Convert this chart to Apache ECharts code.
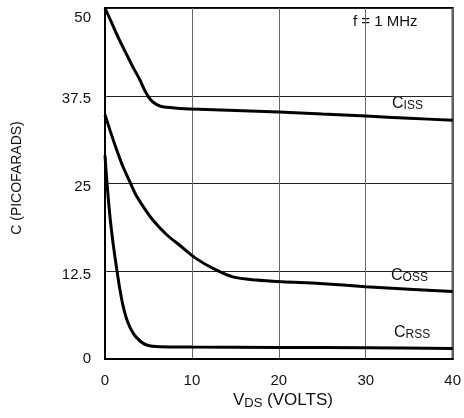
<!DOCTYPE html>
<html>
<head>
<meta charset="utf-8">
<script src="https://cdn.jsdelivr.net/npm/echarts@6/dist/echarts.min.js"></script>
<style>
  html, body { margin: 0; padding: 0; background: #fff; }
  #chart { width: 464px; height: 418px; }
</style>
</head>
<body>
<div id="chart"></div>
<script>
// VDS (volts) sample points
var cissV = [0, 0.8, 1.6, 2.4, 3.25, 4, 4.6, 5.2, 5.75, 6.4, 7.1, 8, 10, 15, 20, 25, 30, 35, 40];
var cissC = [50, 47.8, 45.6, 43.6, 41.5, 39.8, 38.2, 37, 36.4, 36, 35.85, 35.75, 35.6, 35.4, 35.2, 34.9, 34.6, 34.3, 34.0];

var cossV = [0, 0.6, 1.34, 2, 2.8, 3.5, 4.4, 5.5, 7.1, 8.6, 10.5, 12.6, 14.7, 17.4, 20.4, 24.7, 30, 35, 40];
var cossC = [34.8, 32.5, 29.8, 27.6, 25.4, 23.5, 21.7, 19.8, 17.7, 16.2, 14.3, 12.8, 11.7, 11.25, 11.0, 10.75, 10.3, 9.95, 9.6];

var crssV = [0, 0.2, 0.57, 0.95, 1.34, 1.7, 2.1, 2.6, 3.25, 4, 4.8, 6.3, 10, 20, 30, 40];
var crssC = [29, 25.5, 20.3, 16.3, 12.9, 10, 7.45, 5.3, 3.65, 2.6, 2.0, 1.75, 1.7, 1.65, 1.6, 1.5];

var xTicks = [0, 10, 20, 30, 40];
var yTicks = [0, 12.5, 25, 37.5, 50];

function pairs(xs, ys) {
    var out = [];
    for (var i = 0; i < xs.length; i++) out.push([xs[i], ys[i]]);
    return out;
}

var chart = echarts.init(document.getElementById('chart'));

var font = 'Liberation Sans, Arial, sans-serif';

function curve(name, xs, ys) {
    return {
        name: name,
        type: 'line',
        smooth: 0.3,
        symbol: 'none',
        lineStyle: { color: '#000', width: 3 },
        data: pairs(xs, ys)
    };
}

function capLabel(left, top, sub) {
    return {
        type: 'text', left: left, top: top,
        style: {
            text: '{c|C}{s|' + sub + '}',
            rich: {
                c: { fontFamily: font, fontSize: 16, fill: '#111' },
                s: { fontFamily: font, fontSize: 12, fill: '#111', padding: [4, 0, 0, 0] }
            }
        }
    };
}

var option = {
    animation: false,
    backgroundColor: '#fff',
    grid: {
        left: 105, right: 11, top: 8, bottom: 59,
        show: true, borderColor: '#000', borderWidth: 2
    },
    xAxis: {
        type: 'value',
        min: 0, max: 40, interval: 10,
        axisLine: { show: true, lineStyle: { color: '#000', width: 2 } },
        axisTick: { show: false },
        axisLabel: {
            fontFamily: font, fontSize: 15, color: '#111', margin: 14,
            formatter: function (v) { return xTicks.indexOf(v) >= 0 ? String(v) : ''; }
        },
        splitLine: { show: true, lineStyle: { color: '#666', width: 1 } }
    },
    yAxis: {
        type: 'value',
        min: 0, max: 50, interval: 12.5,
        axisLine: { show: true, lineStyle: { color: '#000', width: 2 } },
        axisTick: { show: false },
        axisLabel: {
            fontFamily: font, fontSize: 15, color: '#111', margin: 14,
            formatter: function (v) {
                if (yTicks.indexOf(v) < 0) return '';
                if (v === 50) return '{t|' + v + '}';
                if (v === 0) return '{z|' + v + '}';
                return '{m|' + v + '}';
            },
            rich: {
                t: { fontFamily: font, fontSize: 15, color: '#111', padding: [20, 0, 0, 0] },
                m: { fontFamily: font, fontSize: 15, color: '#111', padding: [7, 0, 0, 0] },
                z: { fontFamily: font, fontSize: 15, color: '#111' }
            }
        },
        splitLine: { show: true, lineStyle: { color: '#222', width: 1 } }
    },
    graphic: [
        { type: 'text', left: 353, top: 14,
          style: { text: 'f = 1 MHz', fontFamily: font, fontSize: 15, fill: '#111' } },
        capLabel(392, 96, 'ISS'),
        capLabel(391, 268, 'OSS'),
        capLabel(394, 325, 'RSS'),
        { type: 'text', x: 17, y: 178, rotation: Math.PI / 2,
          style: { text: 'C (PICOFARADS)', fontFamily: font, fontSize: 14, fill: '#111',
                   align: 'center', verticalAlign: 'middle' } },
        { type: 'text', left: 233, top: 392,
          style: { text: '{v|V}{s|DS} {v|(VOLTS)}', rich: {
              v: { fontFamily: font, fontSize: 17, fill: '#111' },
              s: { fontFamily: font, fontSize: 13, fill: '#111', padding: [6, 0, 0, 0] } },
              fontFamily: font, fontSize: 17, fill: '#111' } }
    ],
    series: [
        curve('Ciss', cissV, cissC),
        curve('Coss', cossV, cossC),
        curve('Crss', crssV, crssC)
    ]
};

chart.setOption(option);
</script>
</body>
</html>
